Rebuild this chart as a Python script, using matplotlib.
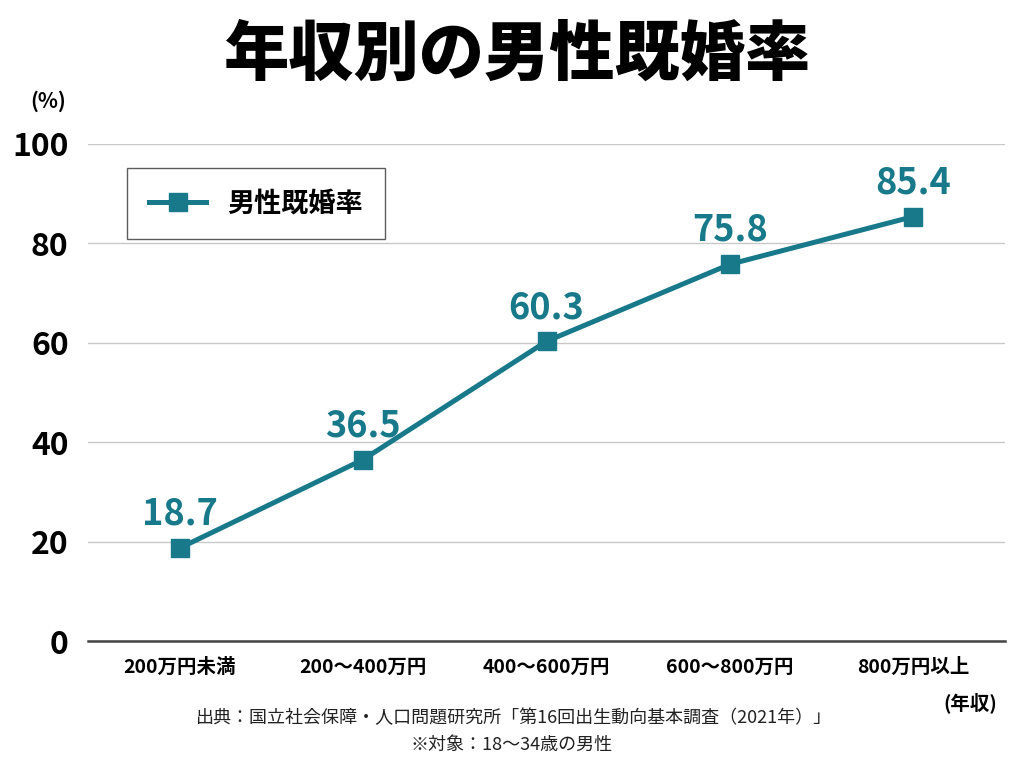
import matplotlib
matplotlib.use("Agg")
import matplotlib.pyplot as plt

plt.rcParams['font.family'] = ['Noto Sans CJK JP', 'DejaVu Sans']

categories = ['200万円未満', '200～400万円', '400～600万円', '600～800万円', '800万円以上']
rates = [18.7, 36.5, 60.3, 75.8, 85.4]
yticks = [0, 20, 40, 60, 80, 100]

TEAL = '#17798a'

fig = plt.figure(figsize=(10.24, 7.68), dpi=100)
ax = fig.add_axes([88/1024, 1 - 641/768, 917/1024, (641 - 144)/768])

x = list(range(len(categories)))
ax.plot(x, rates, color=TEAL, lw=3.6, marker='s', ms=13, mfc=TEAL, mec=TEAL,
        label='男性既婚率', zorder=3)

for xi, v in zip(x, rates):
    ax.annotate(f'{v:.1f}', (xi, v), xytext=(0, 11), textcoords='offset points',
                ha='center', va='bottom', fontsize=26, fontweight='bold', color=TEAL)

ax.set_xlim(-0.5, 4.5)
ax.set_ylim(0, 100)
ax.set_yticks(yticks)
ax.set_yticklabels([str(t) for t in yticks], fontsize=23, fontweight='bold')
ax.set_xticks(x)
ax.set_xticklabels(categories, fontsize=14, fontweight='bold')
ax.tick_params(axis='both', length=0)
ax.tick_params(axis='y', pad=14)
ax.tick_params(axis='x', pad=12)
ax.grid(axis='y', color='#c8c8c8', lw=1)
ax.set_axisbelow(True)
for s in ['top', 'right', 'left']:
    ax.spines[s].set_visible(False)
ax.spines['bottom'].set_color('#444444')
ax.spines['bottom'].set_linewidth(1.8)

leg = ax.legend(loc='upper left', bbox_to_anchor=(0.043, 0.952),
                prop={'weight': 'bold', 'size': 19.5}, frameon=True, fancybox=False,
                edgecolor='#333333', borderpad=0.8, handlelength=2.1,
                handletextpad=0.8, borderaxespad=0)
leg.get_frame().set_linewidth(1.0)

fig.text(0.505, 0.928, '年収別の男性既婚率', ha='center', va='center',
         fontsize=47, fontweight='heavy')
fig.text(48/1024, 1 - 101/768, '(%)', ha='center', va='center', fontsize=15,
         fontweight='bold')
fig.text(970/1024, 1 - 703/768, '(年収)', ha='center', va='center', fontsize=14,
         fontweight='bold')
fig.text(514/1024, 1 - 718/768,
         '出典：国立社会保障・人口問題研究所「第16回出生動向基本調査（2021年）」',
         ha='center', va='center', fontsize=13, color='#222222')
fig.text(512/1024, 1 - 745/768, '※対象：18～34歳の男性', ha='center', va='center',
         fontsize=13, color='#222222')

fig.savefig('out.png', dpi=100, facecolor='white')
